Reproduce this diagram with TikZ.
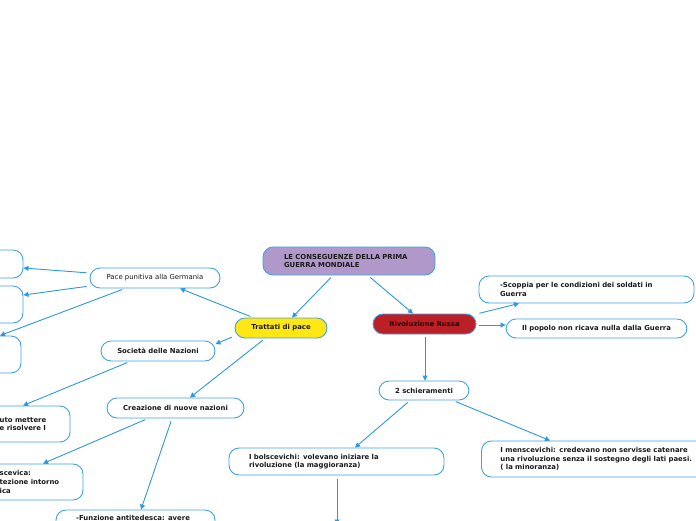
\documentclass[tikz,border=0pt]{standalone}
\usepackage{fontspec}
\setmainfont{DejaVu Sans}
\usetikzlibrary{arrows.meta}
\definecolor{bordc}{HTML}{3FA2E6}
\definecolor{edgec}{HTML}{2C98DE}
\definecolor{mainf}{HTML}{B198CA}
\definecolor{yelf}{HTML}{FFE716}
\definecolor{redf}{HTML}{BC2027}
\definecolor{txtc}{HTML}{1A1A1A}
\tikzset{
  box/.style={draw=bordc, line width=0.9pt, rounded corners=10pt, fill=white, inner sep=0pt, font=\fontsize{6.9}{8.6}\selectfont\bfseries, text=txtc},
  plain/.style={font=\fontsize{6.9}{8.6}\selectfont},
  txt/.style={inner sep=0pt, font=\fontsize{6.9}{8.6}\selectfont\bfseries, text=txtc, align=left},
  conn/.style={draw=edgec, line width=0.9pt, -{Triangle[length=5pt,width=5pt]}, shorten <=3pt},
}
\begin{document}
\begin{tikzpicture}[x=1pt,y=-1pt]
\useasboundingbox (0,0) rectangle (696,520);
\clip (0,0) rectangle (696,520);
% main nodes
\node[box, fill=mainf, minimum width=172pt, minimum height=28pt, text width=130pt, inner xsep=21pt, align=left] (main) at (349,261) {LE CONSEGUENZE DELLA PRIMA\\GUERRA MONDIALE};
\node[box, fill=yelf, minimum width=92pt, minimum height=20pt] (tratt) at (281,328) {Trattati di pace};
\node[box, fill=redf, minimum width=103pt, minimum height=20pt, text=black!85!red] (riv) at (424.5,324) {Rivoluzione Russa};
\node[box, plain, minimum width=130pt, minimum height=20pt] (pace) at (155,278) {Pace punitiva alla Germania};
\node[box, minimum width=114pt, minimum height=20pt] (soc) at (158,351) {Società delle Nazioni};
\node[box, minimum width=137pt, minimum height=20pt] (crea) at (175.5,408) {Creazione di nuove nazioni};
\node[box, minimum width=215pt, minimum height=27pt, text width=173pt, inner xsep=21pt, align=left] (scop) at (586.5,289.5) {-Scoppia per le condizioni dei soldati in\\Guerra};
\node[box, minimum width=181pt, minimum height=19pt] (pop) at (596.5,328.5) {Il popolo non ricava nulla dalla Guerra};
\node[box, minimum width=90pt, minimum height=19pt] (schier) at (424,390.5) {2 schieramenti};
\node[box, minimum width=215pt, minimum height=27pt, text width=175pt, inner xsep=20pt, align=left] (bols) at (336.5,461.5) {I bolscevichi: volevano iniziare la\\rivoluzione (la maggioranza)};
\node[box, minimum width=226pt, minimum height=36pt, text width=200pt, inner xsep=19pt, align=left, anchor=west] (mens) at (481,459) {I menscevichi: credevano non servisse catenare\\una rivoluzione senza il sostegno degli lati paesi.\\( la minoranza)};
% clipped left nodes
\node[box, minimum width=53pt, minimum height=28pt] (l1) at (-3.5,264) {};
\node[box, minimum width=53pt, minimum height=37pt] (l2) at (-3.5,304.5) {};
\node[box, minimum width=51pt, minimum height=37pt] (l3) at (-4.5,354.5) {};
\node[box, minimum width=170pt, minimum height=36pt] (l4) at (-15,424) {};
\node[txt, anchor=west] (l4t) at (-0.5,424) {uto mettere\\e risolvere I};
\node[box, minimum width=183pt, minimum height=36pt] (l5) at (-8.5,482) {};
\node[txt, anchor=west] (l5t) at (-0.5,482) {scevica:\\tezione intorno\\ica};
\node[box, minimum width=159pt, minimum height=36pt] (l6) at (135.5,528) {};
\node[txt, anchor=north west] (l6t) at (76,515) {-Funzione antitedesca: avere};
\coordinate (bend) at (337,524.5);
% connectors
\draw[conn] (main.south -| 333,0) -- (tratt.north -| 292,0);
\draw[conn] (main.south -| 368,0) -- (riv.north -| 413,0);
\draw[conn] (tratt.north -| 253,0) -- (pace.south -| 180,0);
\draw[conn] (tratt.west |- 0,336) -- (soc.east |- 0,344);
\draw[conn] (tratt.south -| 265,0) -- (crea.north -| 190,0);
\draw[conn] (pace.west |- 0,273) -- (l1.east |- 0,268);
\draw[conn] (pace.west |- 0,286) -- (l2.east |- 0,295);
\draw[conn] (pace.south -| 125,0) -- (l3.north -| 0,0);
\draw[conn] (soc.south -| 130,0) -- (l4.north -| 23,0);
\draw[conn] (crea.south -| 148,0) -- (l5.north -| 43,0);
\draw[conn] (crea.south -| 172,0) -- (l6.north -| 141,0);
\draw[conn] (riv.east |- 0,314) -- (scop.south -| 519,0);
\draw[conn] (riv.east |- 0,325) -- (pop.west |- 0,325);
\draw[conn] (riv.south -| 425,0) -- (schier.north -| 425,0);
\draw[conn] (schier.south -| 410,0) -- (bols.north -| 355,0);
\draw[conn] (schier.south -| 453,0) -- (mens.north -| 550,0);
\draw[conn, shorten <=4pt] (bols.south -| 337,0) -- (bend);
\end{tikzpicture}
\end{document}
